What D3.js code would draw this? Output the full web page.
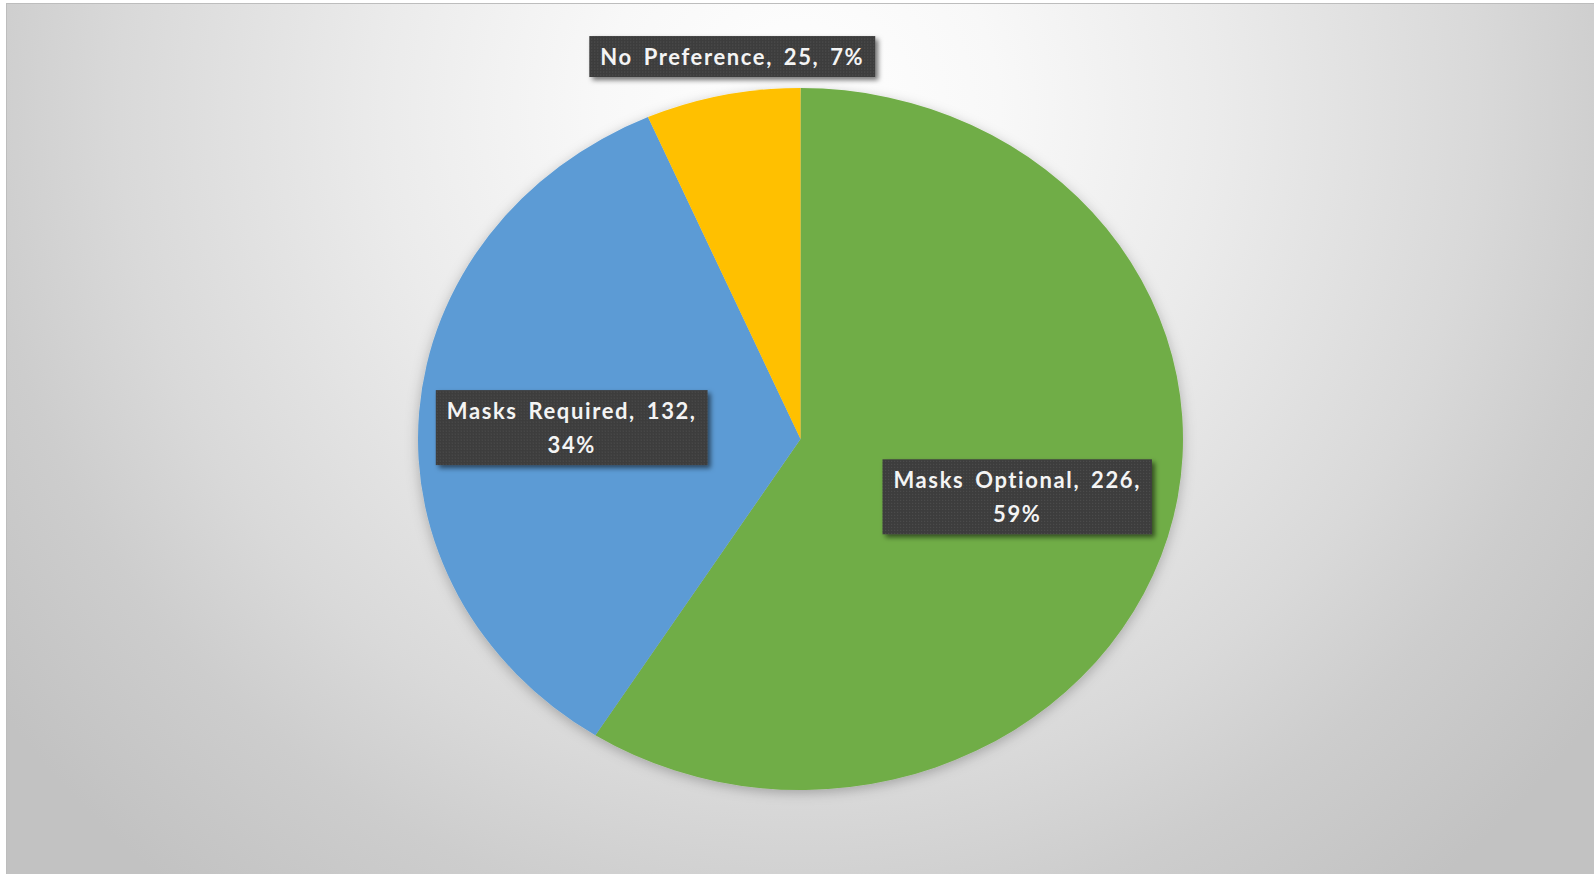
<!DOCTYPE html>
<html><head><meta charset="utf-8">
<script src="https://cdn.jsdelivr.net/npm/d3@7/dist/d3.min.js"></script>
<style>html,body{margin:0;padding:0;background:#fff;overflow:hidden}</style>
</head><body>
<svg id="chart" width="1594" height="874"></svg>
<script>
const categories = ["Masks Optional", "Masks Required", "No Preference"];
const values = [226, 132, 25];
const colors = ["#70AD47", "#5B9BD5", "#FFC000"];

const W = 1594, H = 874;
const cx = 800.5, cy = 439, rx = 382.5, ry = 351;
const svg = d3.select("#chart");
const defs = svg.append("defs");

const bg = defs.append("radialGradient").attr("id", "bg")
  .attr("gradientUnits", "userSpaceOnUse").attr("cx", 800).attr("cy", 110).attr("r", 1000);
[[0, "#ffffff"], [0.2, "#f8f8f8"], [0.42, "#ebebeb"], [0.68, "#d9d9d9"], [0.82, "#cdcdcd"], [1, "#c2c2c2"]]
  .forEach(([o, c]) => bg.append("stop").attr("offset", o).attr("stop-color", c));

const pat = defs.append("pattern").attr("id", "dots").attr("width", 3).attr("height", 3)
  .attr("patternUnits", "userSpaceOnUse");
pat.append("rect").attr("width", 3).attr("height", 3).attr("fill", "#3d3d3d");
pat.append("rect").attr("width", 1).attr("height", 1).attr("fill", "#545454");

const sh = defs.append("filter").attr("id", "boxShadow").attr("x", "-20%").attr("y", "-30%").attr("width", "150%").attr("height", "180%");
sh.append("feDropShadow").attr("dx", 3).attr("dy", 3).attr("stdDeviation", 2.5).attr("flood-color", "#000").attr("flood-opacity", 0.55);
const psh = defs.append("filter").attr("id", "pieShadow").attr("x", "-20%").attr("y", "-20%").attr("width", "140%").attr("height", "140%");
psh.append("feDropShadow").attr("dx", 0).attr("dy", 3).attr("stdDeviation", 6).attr("flood-color", "#000").attr("flood-opacity", 0.25);

svg.append("rect").attr("x", 6.5).attr("y", 3.5).attr("width", W).attr("height", H)
  .attr("fill", "url(#bg)").attr("stroke", "#bdbdbd").attr("stroke-width", 1);

const total = d3.sum(values);
const pie = d3.pie().sort(null).value(d => d);
const arcs = pie(values);
const arc = d3.arc().innerRadius(0).outerRadius(ry);

const g = svg.append("g").attr("transform", `translate(${cx},${cy}) scale(${rx / ry},1)`).attr("filter", "url(#pieShadow)");
g.selectAll("path").data(arcs).join("path")
  .attr("d", arc).attr("fill", (d, i) => colors[i]);

// labels
const labelR = [0.59, 0.6, 1.03];
const fontSize = 22;
const lineH = 34;
const padX = 11;
const lab = svg.append("g");
arcs.forEach((a, i) => {
  const pct = Math.round(values[i] / total * 100);
  const inside = labelR[i] < 1;
  const lines = inside ? [`${categories[i]}, ${values[i]},`, `${pct}%`] : [`${categories[i]}, ${values[i]}, ${pct}%`];
  const mid = (a.startAngle + a.endAngle) / 2;
  const ux = Math.sin(mid) * labelR[i], uy = -Math.cos(mid) * labelR[i];
  let px = cx + ux * rx, py = cy + uy * ry;
  const lg = lab.append("g");
  const box = lg.append("rect").attr("fill", "url(#dots)").attr("filter", "url(#boxShadow)");
  const t = lg.append("text").attr("text-anchor", "middle")
    .attr("font-family", "Lato, 'Open Sans', sans-serif").attr("font-weight", 700)
    .attr("font-size", fontSize).attr("fill", "#f4f4f4")
    .attr("letter-spacing", 1.6).attr("word-spacing", 4);
  lines.forEach((l, k) => t.append("tspan").attr("x", 0).attr("y", k * lineH).attr("dy", "0.37em").text(l));
  const tw = d3.max(t.selectAll("tspan").nodes(), n => n.getComputedTextLength());
  const bw = tw + padX * 2;
  const bh = (lines.length - 1) * lineH + 41;
  if (!inside) { py = py - bh / 2 - 8; px += 12; }
  else if (i === 1) { py += 5; }
  const y0 = -(lines.length - 1) * lineH / 2;
  t.attr("transform", `translate(0,${y0})`);
  box.attr("x", -bw / 2).attr("y", -bh / 2).attr("width", bw).attr("height", bh);
  lg.attr("transform", `translate(${px},${py})`);
});
</script>
</body></html>
